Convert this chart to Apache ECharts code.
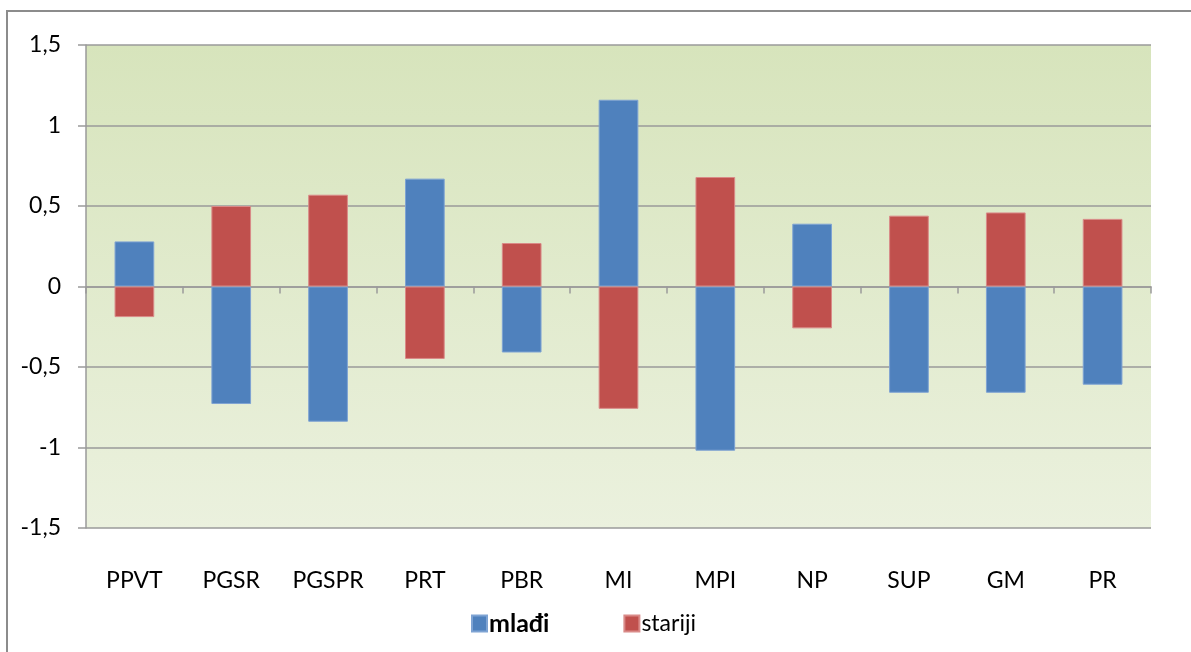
<!DOCTYPE html>
<html>
<head>
<meta charset="utf-8">
<script src="https://cdn.jsdelivr.net/npm/echarts@6/dist/echarts.min.js"></script>
<style>
  html, body { margin: 0; padding: 0; background: #fff; }
  #chart { width: 1191px; height: 652px; }
</style>
</head>
<body>
<div id="chart"></div>
<script>
  var categories = ['PPVT', 'PGSR', 'PGSPR', 'PRT', 'PBR', 'MI', 'MPI', 'NP', 'SUP', 'GM', 'PR'];
  var mladi = [0.28, -0.73, -0.84, 0.67, -0.41, 1.16, -1.02, 0.39, -0.66, -0.66, -0.61];
  var stariji = [-0.19, 0.50, 0.57, -0.45, 0.27, -0.76, 0.68, -0.26, 0.44, 0.46, 0.42];

  var font = 'Lato';
  var lineGray = '#9a9a9a';

  var chart = echarts.init(document.getElementById('chart'));
  chart.setOption({
    animation: false,
    graphic: [{
      type: 'rect',
      shape: { x: 7, y: 11, width: 1300, height: 800 },
      style: { fill: 'none', stroke: '#8c8c8c', lineWidth: 2 },
      silent: true
    }],
    legend: {
      left: 471,
      top: 611,
      padding: 0,
      itemWidth: 15,
      itemHeight: 16,
      itemGap: 74,
      icon: 'rect',
      textStyle: { fontFamily: font, fontSize: 23, color: '#000', padding: [0, 0, 0, -3] },
      data: [
        { name: 'mlađi', textStyle: { fontWeight: 'bold', fontSize: 25 } },
        { name: 'stariji' }
      ]
    },
    grid: {
      left: 86, right: 40, top: 45, bottom: 124,
      show: true,
      borderWidth: 0,
      backgroundColor: new echarts.graphic.LinearGradient(0, 0, 0, 1, [
        { offset: 0, color: '#d7e4bc' },
        { offset: 1, color: '#ebf1de' }
      ])
    },
    xAxis: [{
      type: 'category',
      data: categories,
      axisLine: { onZero: true, lineStyle: { color: lineGray, width: 1.5 } },
      axisTick: { show: true, length: 7, lineStyle: { color: lineGray, width: 1.5 } },
      axisLabel: { show: false }
    }, {
      type: 'category',
      data: categories,
      position: 'bottom',
      axisLine: { show: false, onZero: false },
      axisTick: { show: false },
      axisLabel: { margin: 41, fontFamily: font, fontSize: 23, color: '#000' }
    }],
    yAxis: {
      type: 'value',
      min: -1.5,
      max: 1.5,
      interval: 0.5,
      axisLine: { show: true, lineStyle: { color: lineGray, width: 1.5 } },
      axisTick: { show: true, length: 8, lineStyle: { color: lineGray, width: 1.5 } },
      splitLine: { lineStyle: { color: lineGray, width: 1.5 } },
      axisLabel: {
        margin: 25,
        fontFamily: font,
        fontSize: 23,
        color: '#000',
        formatter: function (v) { return String(v).replace('.', ','); }
      }
    },
    series: [{
      name: 'mlađi',
      type: 'bar',
      stack: 'a',
      barWidth: '41%',
      data: mladi,
      itemStyle: { color: '#4f81bd', borderColor: '#7ea3d3', borderWidth: 1 }
    }, {
      name: 'stariji',
      type: 'bar',
      stack: 'a',
      barWidth: '41%',
      data: stariji,
      itemStyle: { color: '#c0504d', borderColor: '#d98a88', borderWidth: 1 }
    }]
  });
</script>
</body>
</html>
